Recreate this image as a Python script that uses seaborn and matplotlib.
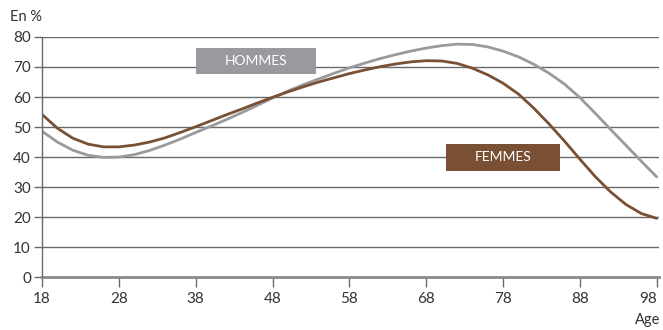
import matplotlib
matplotlib.use("Agg")
import matplotlib.pyplot as plt
import matplotlib.patches as mpatches
import seaborn as sns
import pandas as pd

ages = [18, 20, 22, 24, 26, 28, 30, 32, 34, 36, 38, 40, 42, 44, 46, 48, 50, 52, 54, 56,
        58, 60, 62, 64, 66, 68, 70, 72, 74, 76, 78, 80, 82, 84, 86, 88, 90, 92, 94, 96, 98]
hommes = [48.6, 45.0, 42.3, 40.6, 39.9, 40.0, 40.8, 42.2, 44.0, 46.0, 48.2, 50.3, 52.5, 54.8,
          57.2, 59.7, 62.0, 64.1, 66.0, 67.9, 69.7, 71.3, 72.8, 74.1, 75.3, 76.3, 77.1, 77.6,
          77.5, 76.7, 75.3, 73.4, 70.9, 67.9, 64.3, 59.8, 54.6, 49.2, 43.9, 38.6, 33.4]
femmes = [54.2, 49.6, 46.3, 44.3, 43.4, 43.4, 44.0, 45.0, 46.4, 48.2, 50.1, 52.1, 54.1, 56.0,
          58.0, 59.9, 61.7, 63.4, 65.0, 66.4, 67.8, 69.0, 70.1, 71.0, 71.7, 72.1, 72.0, 71.2,
          69.6, 67.4, 64.6, 61.0, 56.3, 51.0, 45.3, 39.3, 33.5, 28.4, 24.2, 21.2, 19.6]
series_names = ["HOMMES", "FEMMES"]
x_ticks = [18, 28, 38, 48, 58, 68, 78, 88, 98]
y_ticks = [0, 10, 20, 30, 40, 50, 60, 70, 80]

GREY = "#9a9a9e"
BROWN = "#7a5034"

df = pd.DataFrame({
    "Age": ages * 2,
    "Valeur": hommes + femmes,
    "Sexe": [series_names[0]] * len(ages) + [series_names[1]] * len(ages),
})

sns.set_style("white")
plt.rcParams["font.family"] = ["Lato", "DejaVu Sans"]

fig = plt.figure(figsize=(6.63, 3.30), dpi=100)
ax = fig.add_axes([0.0634, 0.160, 0.9306, 0.728])

for y in y_ticks[1:]:
    ax.axhline(y, color="#6a6a6a", lw=1.0, zorder=1)

sns.lineplot(data=df, x="Age", y="Valeur", hue="Sexe",
             palette={series_names[0]: GREY, series_names[1]: BROWN},
             lw=2.0, ax=ax, legend=False, zorder=3)

ax.set_xlim(18, 98.3)
ax.set_ylim(0, 80)
ax.set_xticks(x_ticks)
ax.set_yticks(y_ticks)
ax.set_xlabel("")
ax.set_ylabel("")

for s in ["top", "right"]:
    ax.spines[s].set_visible(False)
ax.spines["left"].set_color("#6a6a6a")
ax.spines["left"].set_linewidth(1.0)
ax.spines["bottom"].set_color("#8a8a8a")
ax.spines["bottom"].set_linewidth(2.0)
ax.spines["left"].set_zorder(4)

ax.tick_params(axis="x", direction="out", length=7, width=1.0, color="#6a6a6a",
               labelsize=11, labelcolor="#333333", pad=4, bottom=True)
ax.tick_params(axis="y", direction="out", length=6, width=1.0, color="#6a6a6a",
               labelsize=11, labelcolor="#333333", pad=2, left=True)
ax.get_xticklabels()[-1].set_horizontalalignment("right")

# label boxes
ax.add_patch(mpatches.Rectangle((38.1, 67.7), 15.6, 8.6, facecolor=GREY,
                                edgecolor="none", zorder=5))
ax.text(45.9, 72.0, series_names[0], color="white", fontsize=10,
        ha="center", va="center", zorder=6)
ax.add_patch(mpatches.Rectangle((70.6, 35.4), 14.8, 8.9, facecolor=BROWN,
                                edgecolor="none", zorder=5))
ax.text(78.0, 39.9, series_names[1], color="white", fontsize=10,
        ha="center", va="center", zorder=6)

fig.text(10 / 663, 1 - 17 / 330, "En %", fontsize=10.5, color="#333333",
         ha="left", va="center")
fig.text(660 / 663, 1 - 320 / 330, "Age", fontsize=10.5, color="#333333",
         ha="right", va="center")

fig.savefig("out.png", dpi=100)
